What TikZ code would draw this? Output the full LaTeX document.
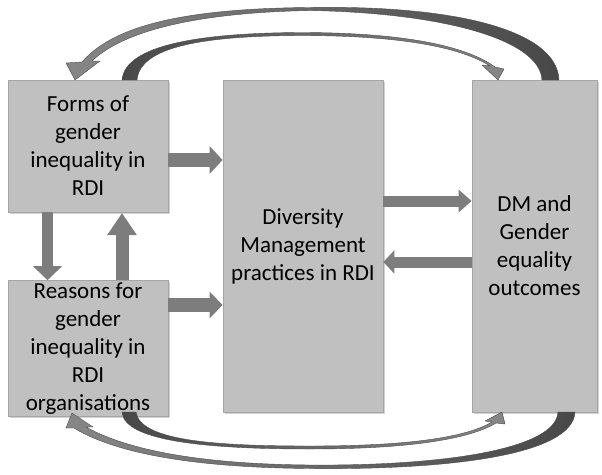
\documentclass[tikz,border=0pt]{standalone}
\usepackage{fontspec}
\setmainfont{Carlito}
\usetikzlibrary{arrows.meta,shadows}
\definecolor{boxfill}{RGB}{192,192,192}
\definecolor{boxline}{RGB}{165,165,165}
\definecolor{arrowgray}{RGB}{125,125,125}
\definecolor{arclight}{RGB}{135,135,135}
\definecolor{arcdark}{RGB}{72,72,72}
\definecolor{arcline}{RGB}{75,75,75}
\tikzset{
  box/.style={rectangle, fill=boxfill, draw=boxline, line width=0.8pt, align=center,
    inner sep=2pt, font=\fontsize{23pt}{28pt}\selectfont,
    drop shadow={shadow xshift=1.5pt, shadow yshift=-1.5pt, opacity=0.35}},
  fatarrow/.style={draw=arrowgray, line width=#1},
  ribbon/.style={draw=arcline, line width=0.4pt, line join=round},
  headleft/.style={ribbon, left color=arclight, right color=arcdark},
  headright/.style={ribbon, left color=arcdark, right color=arclight}
}
\begin{document}
\begin{tikzpicture}[x=1pt, y=-1pt]
\useasboundingbox (0,0) rectangle (602,474);

% boxes
\node[box, minimum width=160pt, minimum height=132pt] (forms) at (88,146)
  {Forms of\\gender\\inequality in\\RDI};
\node[box, minimum width=160pt, minimum height=127pt] (reasons) at (88,348.5)
  {Reasons for\\gender\\inequality in\\RDI\\organisations};
\node[box, minimum width=160pt, minimum height=332pt] (dm) at (303,246)
  {Diversity\\Management\\practices in RDI};
\node[box, minimum width=125pt, minimum height=332pt] (out) at (534.5,246)
  {DM and\\Gender\\equality\\outcomes};

% straight arrows
\draw[fatarrow=14pt, -{Triangle[length=13pt, width=27pt]}]
  (forms.east |- 0,160) -- (dm.west |- 0,160);
\draw[fatarrow=14pt, -{Triangle[length=13pt, width=26pt]}]
  (reasons.east |- 0,305) -- (dm.west |- 0,305);
\draw[fatarrow=11pt, -{Triangle[length=13pt, width=22pt]}]
  (dm.east |- 0,201) -- (out.west |- 0,201);
\draw[fatarrow=11pt, -{Triangle[length=11pt, width=23pt]}]
  (out.west |- 0,262) -- (dm.east |- 0,262);
\draw[fatarrow=11pt, -{Triangle[length=14pt, width=28pt]}]
  (forms.south -| 47.5,0) -- (reasons.north -| 47.5,0);
\draw[fatarrow=13pt, -{Triangle[length=22pt, width=28pt]}]
  (reasons.north -| 122,0) -- (122,213);

% top outer arc (from outcomes to forms)
\path[headleft]
  (559,80) .. controls (557,30) and (455,5) .. (310,7.5)
  .. controls (170,8.5) and (110,30) .. (82,62)
  -- (66,63) -- (75,80) -- (100,61) -- (92,61)
  .. controls (118,36) and (180,13) .. (310,10.5)
  .. controls (445,13) and (540,40) .. (542,80) -- cycle;

% top inner arc (from forms to outcomes)
\path[headright]
  (122,80) .. controls (125,45) and (200,33) .. (300,32.5)
  .. controls (400,32.5) and (465,45) .. (495,67)
  -- (504,69) -- (498,80) -- (482,65) -- (490,66)
  .. controls (460,47) and (400,35.5) .. (300,35.5)
  .. controls (205,36) and (140,46) .. (137,80) -- cycle;

% bottom outer arc (from outcomes to reasons)
\path[headleft]
  (575,412) .. controls (573,455) and (450,470) .. (310,468.5)
  .. controls (180,467.5) and (110,450) .. (74,428)
  -- (66,428) -- (72,413) -- (93,427) -- (86,427)
  .. controls (120,446) and (185,464) .. (310,465)
  .. controls (440,466) and (556,450) .. (558,412) -- cycle;

% bottom inner arc (from reasons to outcomes)
\path[headright]
  (122,412) .. controls (124,440) and (200,449) .. (310,449)
  .. controls (410,449) and (470,439) .. (496,423)
  -- (505,424) -- (502,412) -- (485,421) -- (492,422)
  .. controls (465,438) and (405,446) .. (310,446)
  .. controls (210,446) and (140,440) .. (136,412) -- cycle;
\end{tikzpicture}
\end{document}
